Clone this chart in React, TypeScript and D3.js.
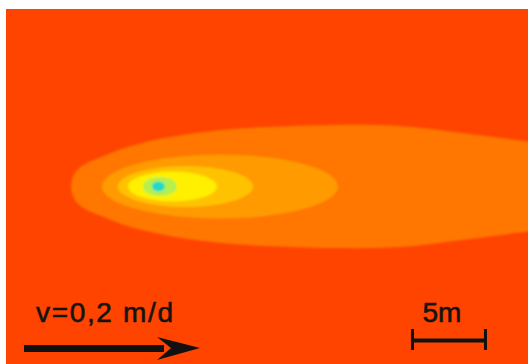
import React from 'react';
import * as d3 from 'd3';

// plume model output (metres, source at x = 0, plume axis at y = 0)
const levelColors = ['#ff4400', '#ff7600', '#ff9a00', '#ffc200', '#fff000', '#b4f050', '#22d8c8'];

// outer contour: distance along flow and half width
const plumeX = [-5.81, -5.61, -5.2, -4.53, -3.85, -2.5, -1.15, 0.68, 2.91, 5.14, 8.31, 11.89, 16.42, 20.95, 25.07, 27.5, 30];
const plumeHalfWidth = [0, 0.81, 1.28, 1.69, 1.96, 2.5, 2.91, 3.31, 3.65, 3.89, 4.05, 4.16, 4.09, 3.58, 3.05, 2.8, 2.6];

// inner contours: upstream end, downstream end, half width
const coreStart = [-3.72, -2.64, -1.96, -0.95, -0.34];
const coreEnd = [12.23, 6.49, 4.05, 1.35, 0.54];
const coreHalfWidth = [2.16, 1.39, 1.01, 0.65, 0.34];

const velocityLabel = 'v=0,2 m/d';
const scaleLength = 5; // m
const scaleLabel = '5m';

const W = 528;
const H = 364;
const left = 6;
const top = 9;

export default function App() {
  const x = d3.scaleLinear().domain([-10.2, 25.07]).range([left, W]);
  const y = d3.scaleLinear().domain([12, -12]).range([top, H]);

  const outline: [number, number][] = [
    ...plumeX.map((d, i) => [d, plumeHalfWidth[i]] as [number, number]),
    ...plumeX.slice(1).map((d, i) => [d, -plumeHalfWidth[i + 1]] as [number, number]).reverse(),
  ];
  const line = d3.line<[number, number]>()
    .x(d => x(d[0]))
    .y(d => y(d[1]))
    .curve(d3.curveCatmullRomClosed);

  const barX0 = x(17.23);
  const barX1 = x(17.23 + scaleLength);

  return (
    <svg width={W} height={H} style={{ position: 'absolute', left: 0, top: 0 }}>
      <defs>
        <clipPath id="plot">
          <rect x={left} y={top} width={W - left} height={H - top} />
        </clipPath>
        <filter id="soft" x="-5%" y="-5%" width="110%" height="110%">
          <feGaussianBlur stdDeviation="0.8" />
        </filter>
      </defs>
      <rect x={0} y={0} width={W} height={H} fill="#fff" />
      <g clipPath="url(#plot)">
        <rect x={left} y={top} width={W - left} height={H - top} fill={levelColors[0]} />
        <g filter="url(#soft)">
          <path d={line(outline) || ''} fill={levelColors[1]} />
          {coreStart.map((s, i) => (
            <ellipse
              key={i}
              cx={x((s + coreEnd[i]) / 2)}
              cy={y(0)}
              rx={(x(coreEnd[i]) - x(s)) / 2}
              ry={y(-coreHalfWidth[i]) - y(0)}
              fill={levelColors[i + 2]}
            />
          ))}
        </g>
      </g>
      <g fill="#141414" stroke="#141414" strokeWidth={0.6}
        style={{ fontFamily: 'Liberation Sans, Arial, sans-serif', fontSize: 28 }}>
        <text x={36} y={322} textLength={137} lengthAdjust="spacing">{velocityLabel}</text>
        <text x={(barX0 + barX1) / 2 - 7} y={322} textAnchor="middle">{scaleLabel}</text>
      </g>
      <g fill="#111" stroke="none">
        <rect x={24} y={345} width={140} height={7} />
        <path d={`M200,348 L157,337 L171,348 L157,360 Z`} />
        <rect x={barX0} y={338.5} width={barX1 - barX0} height={4} />
        <rect x={barX0 - 1} y={329} width={3} height={21} />
        <rect x={barX1 - 2} y={329} width={3} height={21} />
      </g>
    </svg>
  );
}
